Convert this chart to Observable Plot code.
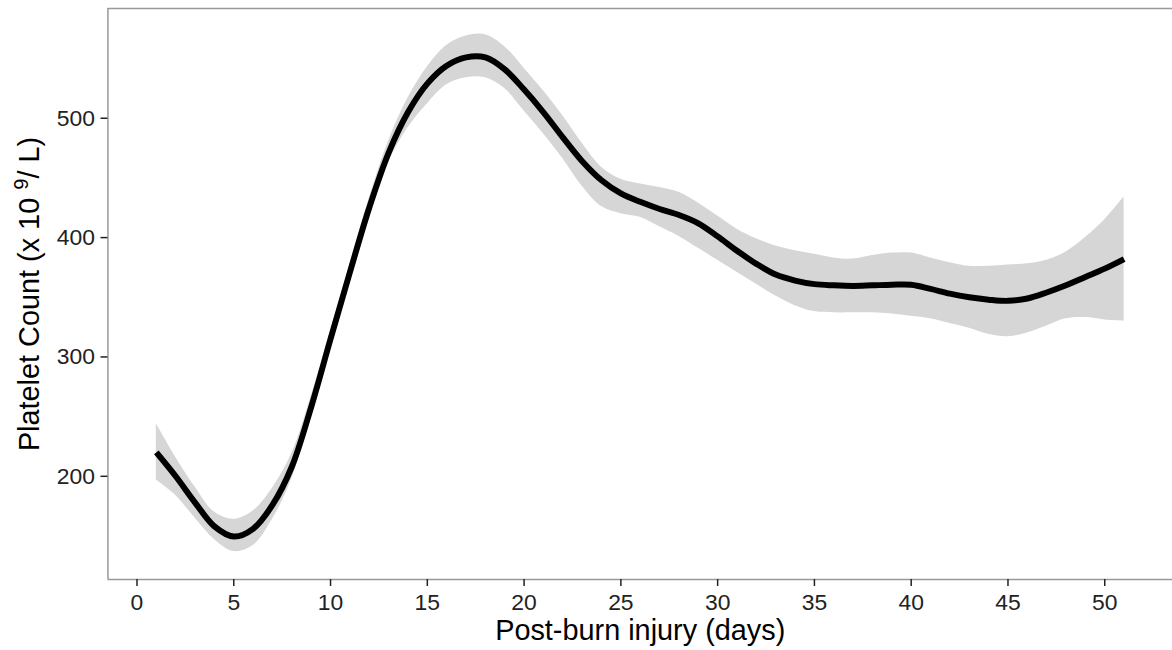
<!DOCTYPE html>
<html>
<head>
<meta charset="utf-8">
<script src="https://cdn.jsdelivr.net/npm/d3@7"></script>
<script src="https://cdn.jsdelivr.net/npm/@observablehq/plot@0.6"></script>
<style>
  html, body { margin: 0; padding: 0; background: #fff; overflow: hidden; }
  #chart { width: 1172px; height: 650px; overflow: hidden; }
</style>
</head>
<body>
<div id="chart"></div>
<script>
const days = [1,2,3,4,5,6,7,8,9,10,11,12,13,14,15,16,17,18,19,20,21,22,23,24,25,26,27,28,29,30,31,32,33,34,35,36,37,38,39,40,41,42,43,44,45,46,47,48,49,50,51];
const fit = [220,200,178,158,149.5,156,176,208,258,315,371,425,471,505,529,544,551,551,541,524,505,484,464,448,437,430,424,419,412,401,389,378,369,364,361,360,359.5,360,360.5,360.5,357,353,350,348,347,349,354,360,367,374,382];
const lower = [197,184,165,147,137,142,164,198,250,307,363,417,463,492,512,528,534,534,525,506,487,466,443,426,420,417,409,401,391,381,371,361,351,343,338,337,337,337,336,334,332,328,324,319,317,320,326,332,333,331,330];
const upper = [244,216,191,170,164,171,190,219,267,322,377,433,481,517,543,561,569,570,560,542,523,502,479,459,449,445,442,438,429,418,407,399,393,389,386,383,382,385,387,387,383,379,376,376,377,378,381,388,400,415,434];
const xTicks = [0,5,10,15,20,25,30,35,40,45,50];
const yTicks = [200,300,400,500];
const xTitle = "Post-burn injury (days)";
const yTitle = "Platelet Count (x 10 9/ L)";

const rows = days.map((d, i) => ({day: d, fit: fit[i], lower: lower[i], upper: upper[i]}));
const xDomain = [-1.5, 53.5];
const yDomain = [113.5, 592];

const plot = Plot.plot({
  width: 1178,
  height: 650,
  marginLeft: 108,
  marginRight: 0,
  marginTop: 8,
  marginBottom: 68,
  style: {fontFamily: "'Liberation Sans', Arial, Helvetica, sans-serif", background: "#fff", color: "#222"},
  x: {domain: xDomain},
  y: {domain: yDomain},
  marks: [
    Plot.areaY(rows, {x: "day", y1: "lower", y2: "upper", fill: "#d6d6d6", curve: "catmull-rom"}),
    Plot.lineY(rows, {x: "day", y: "fit", stroke: "#000", strokeWidth: 6, curve: "catmull-rom", strokeLinecap: "butt"}),
    Plot.ruleX([xDomain[0]], {stroke: "#999", strokeWidth: 1.5}),
    Plot.ruleY([yDomain[0], yDomain[1]], {stroke: "#999", strokeWidth: 1.5}),
    Plot.axisX({ticks: xTicks, tickSize: 7, tickPadding: 7, fontSize: 23, label: null, strokeWidth: 1.5, fill: "#222"}),
    Plot.axisY({ticks: yTicks, tickSize: 7, tickPadding: 6, fontSize: 23, label: null, strokeWidth: 1.5, fill: "#222"}),
    Plot.text([xTitle], {frameAnchor: "bottom", textAnchor: "middle", lineAnchor: "middle", dy: 51, fontSize: 29, fill: "#000"}),
    Plot.text([yTitle], {frameAnchor: "left", textAnchor: "middle", lineAnchor: "middle", dx: -79, rotate: -90, fontSize: 29, fill: "#000"})
  ]
});

// add superscript to the y title
d3.select(plot).selectAll("text").each(function() {
  if (this.textContent === yTitle) {
    const t = d3.select(this);
    t.text(null);
    t.append("tspan").text("Platelet Count (x 10 ");
    t.append("tspan").attr("baseline-shift", "super").attr("font-size", "0.7em").text("9");
    t.append("tspan").text("/ L)");
  }
});

document.getElementById("chart").appendChild(plot);
</script>
</body>
</html>
